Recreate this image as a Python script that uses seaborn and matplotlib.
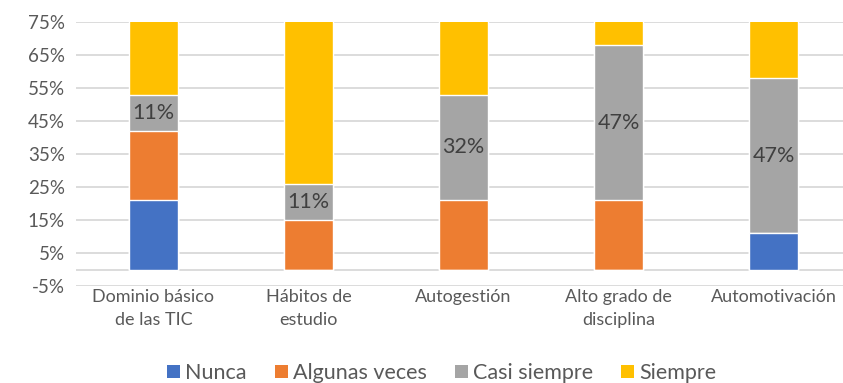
import matplotlib
matplotlib.use("Agg")
import matplotlib.pyplot as plt
from matplotlib.patches import Patch
from matplotlib.ticker import FixedLocator
import seaborn as sns
import pandas as pd
import numpy as np

categories = ["Dominio básico\nde las TIC", "Hábitos de\nestudio", "Autogestión",
              "Alto grado de\ndisciplina", "Automotivación"]
nunca = [21, 0, 0, 0, 11]
algunas_veces = [21, 15, 21, 21, 0]
casi_siempre = [11, 11, 32, 47, 47]
siempre = [47, 74, 47, 32, 42]

series_names = ["Nunca", "Algunas veces", "Casi siempre", "Siempre"]
series_values = [nunca, algunas_veces, casi_siempre, siempre]
colors = ["#4472C4", "#ED7D31", "#A5A5A5", "#FFC000"]
y_ticks = [-5, 5, 15, 25, 35, 45, 55, 65, 75]

sns.set_theme(style="white")
plt.rcParams["font.family"] = ["Lato", "DejaVu Sans"]
text_color = "#595959"

fig = plt.figure(figsize=(8.43, 3.83), dpi=100)
ax = fig.add_axes([76 / 843, 1 - 286 / 383, 775 / 843, 264 / 383])

# cumulative totals, drawn from the tallest stack down so each layer overlays the previous
cum = np.cumsum(np.array(series_values, dtype=float), axis=0)
for i in range(len(series_names) - 1, -1, -1):
    df = pd.DataFrame({"cat": categories, "val": cum[i]})
    sns.barplot(data=df, x="cat", y="val", color=colors[i], width=0.316,
                saturation=1, ax=ax, zorder=2)

# value labels on the "Casi siempre" segment
for j, v in enumerate(casi_siempre):
    mid = cum[1][j] + v / 2
    ax.text(j, mid, f"{v}%", ha="center", va="center", fontsize=15.5,
            color="#404040", zorder=3)

ax.set_ylim(-5, 75)
ax.set_xlim(-0.5, len(categories) - 0.5)
ax.yaxis.set_major_locator(FixedLocator(y_ticks))
ax.set_yticklabels([f"{t}%" for t in y_ticks])
ax.set_xlabel("")
ax.set_ylabel("")
for t in y_ticks:
    ax.axhline(t, color="#D9D9D9", lw=1.3, zorder=0)
ax.axhline(0, color="#D9D9D9", lw=1.3, zorder=1)
for s in ax.spines.values():
    s.set_visible(False)
ax.tick_params(axis="both", length=0, colors=text_color, labelsize=13.5)
ax.tick_params(axis="y", pad=8)
ax.tick_params(axis="x", pad=2)
for lbl in ax.get_xticklabels():
    lbl.set_linespacing(1.55)
    lbl.set_fontsize(13)

handles = [Patch(facecolor=c, edgecolor="none") for c in colors]
leg = fig.legend(handles, series_names, loc="center", ncol=4,
                 bbox_to_anchor=(442 / 843, 1 - 373 / 383), frameon=False,
                 fontsize=15.5, handlelength=0.6, handleheight=0.6,
                 handletextpad=0.25, columnspacing=1.3)
for t in leg.get_texts():
    t.set_color(text_color)

fig.savefig("out.png", dpi=100)
